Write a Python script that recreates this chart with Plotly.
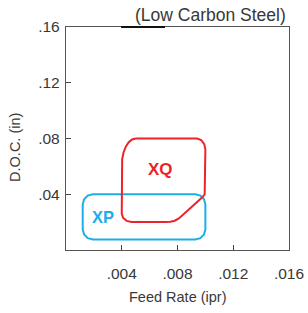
import plotly.graph_objects as go

# Outline of the XQ region (feed rate in ipr, depth of cut in inches)
xq_feed = [0.0050, 0.0094, 0.0097, 0.00992, 0.0100, 0.0100, 0.00995, 0.0098, 0.0096, 0.0081,
           0.0078, 0.0075, 0.0071, 0.0047, 0.00435, 0.00409, 0.0040, 0.0040, 0.00403, 0.00413,
           0.00429, 0.0045, 0.00474, 0.0050]
xq_doc = [0.080, 0.080, 0.0789, 0.0760, 0.0720, 0.0430, 0.0400, 0.0380, 0.0362, 0.0226,
          0.0210, 0.0203, 0.0201, 0.0201, 0.0209, 0.0231, 0.0261, 0.0600, 0.0652, 0.0700,
          0.0741, 0.0773, 0.0793, 0.080]

# Outline of the XP region
xp_feed = [0.00192, 0.00928, 0.00964, 0.00990, 0.0100, 0.0100, 0.00990, 0.00964, 0.00928,
           0.00192, 0.00156, 0.00130, 0.0012, 0.0012, 0.00130, 0.00156, 0.00192]
xp_doc = [0.040, 0.040, 0.0390, 0.0364, 0.0328, 0.0147, 0.0111, 0.0085, 0.0075,
          0.0075, 0.0085, 0.0111, 0.0147, 0.0328, 0.0364, 0.0390, 0.040]

region_names = ["XQ", "XP"]
label_feed = [0.00681, 0.00268]
label_doc = [0.0579, 0.0237]

x_tick_vals = [0.004, 0.008, 0.012, 0.016]
x_tick_text = [".004", ".008", ".012", ".016"]
y_tick_vals = [0.04, 0.08, 0.12, 0.16]
y_tick_text = [".04", ".08", ".12", ".16"]

RED = "#ec2329"
BLUE = "#1eaee6"
TXT = "#383838"
FONT = "Liberation Sans, Arial, sans-serif"

fig = go.Figure()
fig.add_trace(go.Scatter(x=xp_feed, y=xp_doc, mode="lines",
                         line=dict(color=BLUE, width=2),
                         hoverinfo="skip", showlegend=False))
fig.add_trace(go.Scatter(x=xq_feed, y=xq_doc, mode="lines",
                         line=dict(color=RED, width=2),
                         hoverinfo="skip", showlegend=False))

fig.add_annotation(x=label_feed[0], y=label_doc[0], text="<b>%s</b>" % region_names[0],
                   showarrow=False, font=dict(family=FONT, size=17, color=RED))
fig.add_annotation(x=label_feed[1], y=label_doc[1], text="<b>%s</b>" % region_names[1],
                   showarrow=False, font=dict(family=FONT, size=16.5, color=BLUE))

fig.add_annotation(x=1.0, y=1.0, xref="paper", yref="paper", xanchor="right", yanchor="bottom",
                   yshift=0, xshift=-1, text="(Low Carbon Steel)", showarrow=False,
                   font=dict(family=FONT, size=17.5, color=TXT))

# axis titles
fig.add_annotation(x=0.5, y=-0.21, xref="paper", yref="paper", xanchor="center", yanchor="middle",
                   text="Feed Rate (ipr)", showarrow=False,
                   font=dict(family=FONT, size=14.5, color=TXT))
fig.add_annotation(x=-0.229, y=0.462, xref="paper", yref="paper", xanchor="center", yanchor="middle",
                   text="D.O.C. (in)", textangle=-90, showarrow=False,
                   font=dict(family=FONT, size=14.5, color=TXT))

# darker segment on the top frame, as in the original artwork
fig.add_shape(type="line", xref="paper", yref="paper", x0=0.247, x1=0.444, y0=1, y1=1,
              line=dict(color="#111", width=2))

fig.update_layout(
    width=308, height=313,
    margin=dict(l=66, r=19, t=27, b=63, autoexpand=False),
    paper_bgcolor="white", plot_bgcolor="white",
    font=dict(family=FONT, color=TXT),
    xaxis=dict(range=[0, 0.016], tickvals=x_tick_vals, ticktext=x_tick_text,
               ticks="inside", ticklen=5, tickcolor="#444", tickwidth=1,
               showline=True, mirror=True, linecolor="#555", linewidth=1.3,
               showgrid=False, zeroline=False, ticklabelstandoff=9, automargin=False,
               tickfont=dict(family=FONT, size=15.5, color=TXT)),
    yaxis=dict(range=[0, 0.16], tickvals=y_tick_vals, ticktext=y_tick_text,
               ticks="inside", ticklen=5, tickcolor="#444", tickwidth=1,
               showline=True, mirror=True, linecolor="#555", linewidth=1.3,
               showgrid=False, zeroline=False, ticklabelstandoff=2, automargin=False,
               tickfont=dict(family=FONT, size=15.5, color=TXT)),
)

fig.write_html("out.html", config={"displayModeBar": False},
               post_script="document.body.style.margin='0';document.body.style.overflow='hidden';")
